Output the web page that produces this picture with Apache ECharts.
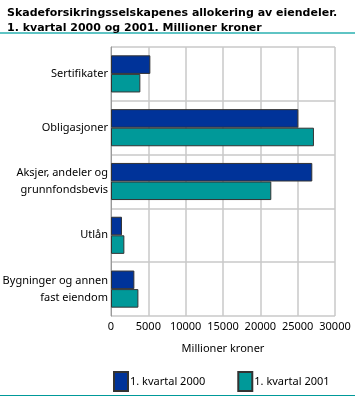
<!DOCTYPE html>
<html><head><meta charset="utf-8">
<script src="https://cdn.jsdelivr.net/npm/echarts@6/dist/echarts.min.js"></script>
<style>html,body{margin:0;padding:0;background:#fff}#c{width:355px;height:396px}</style>
</head><body><div id="c"></div>
<script>
const categories = ['Sertifikater', 'Obligasjoner', 'Aksjer, andeler og\ngrunnfondsbevis', 'Utlån', 'Bygninger og annen\nfast eiendom'];
const series2000 = [5270, 25090, 26960, 1470, 3130];
const series2001 = [3930, 27180, 21470, 1790, 3670];
const seriesNames = ['1. kvartal 2000', '1. kvartal 2001'];
const titleLines = ['Skadeforsikringsselskapenes allokering av eiendeler.', '1. kvartal 2000 og 2001. Millioner kroner'];
const xAxisName = 'Millioner kroner';

const tfont = 'DejaVu Sans';
const font = 'Noto Sans';
const chart = echarts.init(document.getElementById('c'));
chart.setOption({
  animation: false,
  title: {
    text: titleLines.join('\n'), left: 2, top: 1,
    textStyle: { fontFamily: tfont, fontWeight: 'bold', fontSize: 11, lineHeight: 15, color: '#000' }
  },
  graphic: [
    { type: 'rect', shape: { x: 0, y: 32, width: 355, height: 2 }, style: { fill: '#5fc4c4' } },
    { type: 'rect', shape: { x: 0, y: 395, width: 355, height: 1 }, style: { fill: '#009999' } }
  ],
  legend: {
    orient: 'horizontal', top: 366, left: 108, right: 0, itemGap: 32, itemWidth: 14, itemHeight: 19,
    icon: 'rect',
    data: seriesNames,
    textStyle: { fontFamily: font, fontSize: 11, color: '#000', padding: [0,0,0,-3] }
  },
  grid: { left: 111, right: 20, top: 47, bottom: 80, containLabel: false, outerBoundsMode: 'none' },
  xAxis: {
    type: 'value', min: 0, max: 30000, interval: 5000,
    name: xAxisName, nameLocation: 'middle', nameGap: 27,
    nameTextStyle: { fontFamily: font, fontSize: 11, color: '#000' },
    axisLine: { show: false }, axisTick: { show: false },
    axisLabel: { fontFamily: font, fontSize: 11, color: '#000', margin: 5, formatter: v => String(v) },
    splitLine: { lineStyle: { color: '#c8c8c8', width: 1.5 } }
  },
  yAxis: {
    type: 'category', data: categories, inverse: true,
    axisLine: { lineStyle: { color: '#999' } }, axisTick: { show: false },
    axisLabel: { fontFamily: font, fontSize: 11, color: '#000', margin: 3, lineHeight: 17, align: 'right' },
    splitLine: { show: true, lineStyle: { color: '#c8c8c8', width: 1.5 } }
  },
  series: [
    { name: seriesNames[0], type: 'bar', data: series2000, barCategoryGap: '31%', barGap: '0%',
      itemStyle: { color: '#003399', borderColor: '#333', borderWidth: 1 } },
    { name: seriesNames[1], type: 'bar', data: series2001, barCategoryGap: '31%', barGap: '0%',
      itemStyle: { color: '#009999', borderColor: '#333', borderWidth: 1 } }
  ]
});
</script></body></html>
